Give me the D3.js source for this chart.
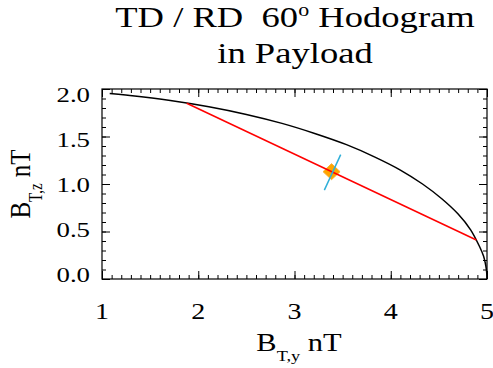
<!DOCTYPE html>
<html>
<head>
<meta charset="utf-8">
<script src="https://cdn.jsdelivr.net/npm/d3@7/dist/d3.min.js"></script>
<style>
	body { margin: 0; background: #fff; }
	text { font-family: "Liberation Serif", "Times New Roman", serif; fill: #000; white-space: pre; }
</style>
</head>
<body>
<svg id="chart"></svg>
<script>
var width = 493,
	height = 368;

// values
var curveX = [1.08, 1.29, 1.71, 2.11, 2.50, 2.87, 3.21, 3.54, 3.83, 4.10, 4.33, 4.53, 4.70, 4.83, 4.92, 4.963, 4.981, 4.993, 4.998, 5.0];
var curveY = [1.953, 1.932, 1.879, 1.813, 1.732, 1.638, 1.532, 1.414, 1.286, 1.147, 1.000, 0.845, 0.684, 0.518, 0.347, 0.244, 0.174, 0.105, 0.052, 0.0];
var chordX = [1.88, 4.89],
	chordY = [1.85, 0.41];
var centerX = [3.385],
	centerY = [1.13];
var normalX = [3.31, 3.48],
	normalY = [0.936, 1.309];
var xTicks = [1, 2, 3, 4, 5],
	xTickLabels = ["1", "2", "3", "4", "5"];
var yTicks = [0, 0.5, 1, 1.5, 2],
	yTickLabels = ["0.0", "0.5", "1.0", "1.5", "2.0"];

// the whole picture is a bit wider than tall, text included
var stretch = 1.22;

var svg = d3.select("#chart")
	.attr("width", width)
	.attr("height", height);

var x = d3.scaleLinear()
	.domain([1, 5])
	.range([102, 487]),

	y = d3.scaleLinear()
		.domain([0, 2])
		.range([279, 89]),

	// tick labels sit a little inside their ticks
	yLab = d3.scaleLinear()
		.domain([0, 2])
		.range([274.5, 94.5]);

function minorTicks(lo, hi, step) {
	var out = [];
	for (var v = lo; v <= hi + 1e-9; v += step) out.push(+v.toFixed(3));
	return out;
}

function addAxis(axis, tx, ty) {
	var g = svg.append("g")
		.attr("transform", "translate(" + tx + "," + ty + ")")
		.call(axis);
	g.select(".domain").remove();
	g.selectAll(".tick line").attr("stroke", "#000").attr("stroke-width", 1);
	return g;
}

// major + minor ticks on all four sides, pointing in
addAxis(d3.axisBottom(x).tickValues(xTicks).tickSize(-8).tickFormat(""), 0, 279);
addAxis(d3.axisBottom(x).tickValues(minorTicks(1, 5, 0.1)).tickSize(-4).tickFormat(""), 0, 279);
addAxis(d3.axisTop(x).tickValues(xTicks).tickSize(-8).tickFormat(""), 0, 89);
addAxis(d3.axisTop(x).tickValues(minorTicks(1, 5, 0.1)).tickSize(-4).tickFormat(""), 0, 89);
addAxis(d3.axisLeft(y).tickValues(yTicks).tickSize(-8).tickFormat(""), 102, 0);
addAxis(d3.axisLeft(y).tickValues(minorTicks(0, 2, 0.1)).tickSize(-4).tickFormat(""), 102, 0);
addAxis(d3.axisRight(y).tickValues(yTicks).tickSize(-8).tickFormat(""), 487, 0);
addAxis(d3.axisRight(y).tickValues(minorTicks(0, 2, 0.1)).tickSize(-4).tickFormat(""), 487, 0);

svg.append("rect")
	.attr("x", 102).attr("y", 89)
	.attr("width", 487 - 102).attr("height", 279 - 89)
	.attr("fill", "none")
	.attr("stroke", "#000")
	.attr("stroke-width", 1.2);

// tick labels
svg.append("g").selectAll("text")
	.data(xTicks)
	.enter()
	.append("text")
	.attr("text-anchor", "middle")
	.attr("font-size", 23)
	.attr("transform", function (d) {
		return "translate(" + x(d) + ",319) scale(" + stretch + ",1)";
	})
	.text(function (d, i) { return xTickLabels[i]; });

svg.append("g").selectAll("text")
	.data(yTicks)
	.enter()
	.append("text")
	.attr("text-anchor", "end")
	.attr("font-size", 22)
	.attr("dy", "0.34em")
	.attr("transform", function (d) {
		return "translate(90," + yLab(d) + ") scale(" + stretch + ",1)";
	})
	.text(function (d, i) { return yTickLabels[i]; });

// data marks
var line = d3.line()
	.x(function (d) { return x(d[0]); })
	.y(function (d) { return y(d[1]); });

svg.append("path")
	.datum(d3.zip(curveX, curveY))
	.attr("d", line.curve(d3.curveCatmullRom))
	.attr("fill", "none")
	.attr("stroke", "#000")
	.attr("stroke-width", 1.5);

svg.append("g").selectAll("path")
	.data(d3.zip(centerX, centerY))
	.enter()
	.append("path")
	.attr("d", "M0,-8L8.5,0L0,8L-8.5,0Z")
	.attr("transform", function (d) {
		return "translate(" + x(d[0]) + "," + y(d[1]) + ")";
	})
	.attr("fill", "#FFA500")
	.attr("stroke", "#F8B030")
	.attr("stroke-width", 1);

svg.append("path")
	.datum(d3.zip(chordX, chordY))
	.attr("d", line.curve(d3.curveLinear))
	.attr("fill", "none")
	.attr("stroke", "#FF0000")
	.attr("stroke-width", 1.5);

svg.append("path")
	.datum(d3.zip(normalX, normalY))
	.attr("d", line.curve(d3.curveLinear))
	.attr("fill", "none")
	.attr("stroke", "#2FAFD8")
	.attr("stroke-width", 1.5);

// title
var title = svg.append("g").attr("text-anchor", "middle").attr("font-size", 30);
var t1 = title.append("text")
	.attr("transform", "translate(295,27) scale(" + stretch + ",1)");
t1.append("tspan").text("TD / RD  60");
t1.append("tspan").attr("font-size", 18).attr("dy", -11).text("o");
t1.append("tspan").attr("dy", 11).text(" Hodogram");
title.append("text")
	.attr("transform", "translate(295,63) scale(" + stretch + ",1)")
	.text("in Payload");

// axis titles
var xt = svg.append("text")
	.attr("text-anchor", "middle")
	.attr("font-size", 25)
	.attr("transform", "translate(299,351) scale(" + stretch + ",1)");
xt.append("tspan").text("B");
xt.append("tspan").attr("font-size", 15).attr("dy", 10).text("T,y");
xt.append("tspan").attr("dy", -10).text(" nT");

var yt = svg.append("text")
	.attr("text-anchor", "middle")
	.attr("font-size", 25)
	.attr("transform", "translate(30,184) rotate(-90) scale(1," + stretch + ")");
yt.append("tspan").text("B");
yt.append("tspan").attr("font-size", 15).attr("dy", 10).text("T,z");
yt.append("tspan").attr("dy", -10).text(" nT");
</script>
</body>
</html>
